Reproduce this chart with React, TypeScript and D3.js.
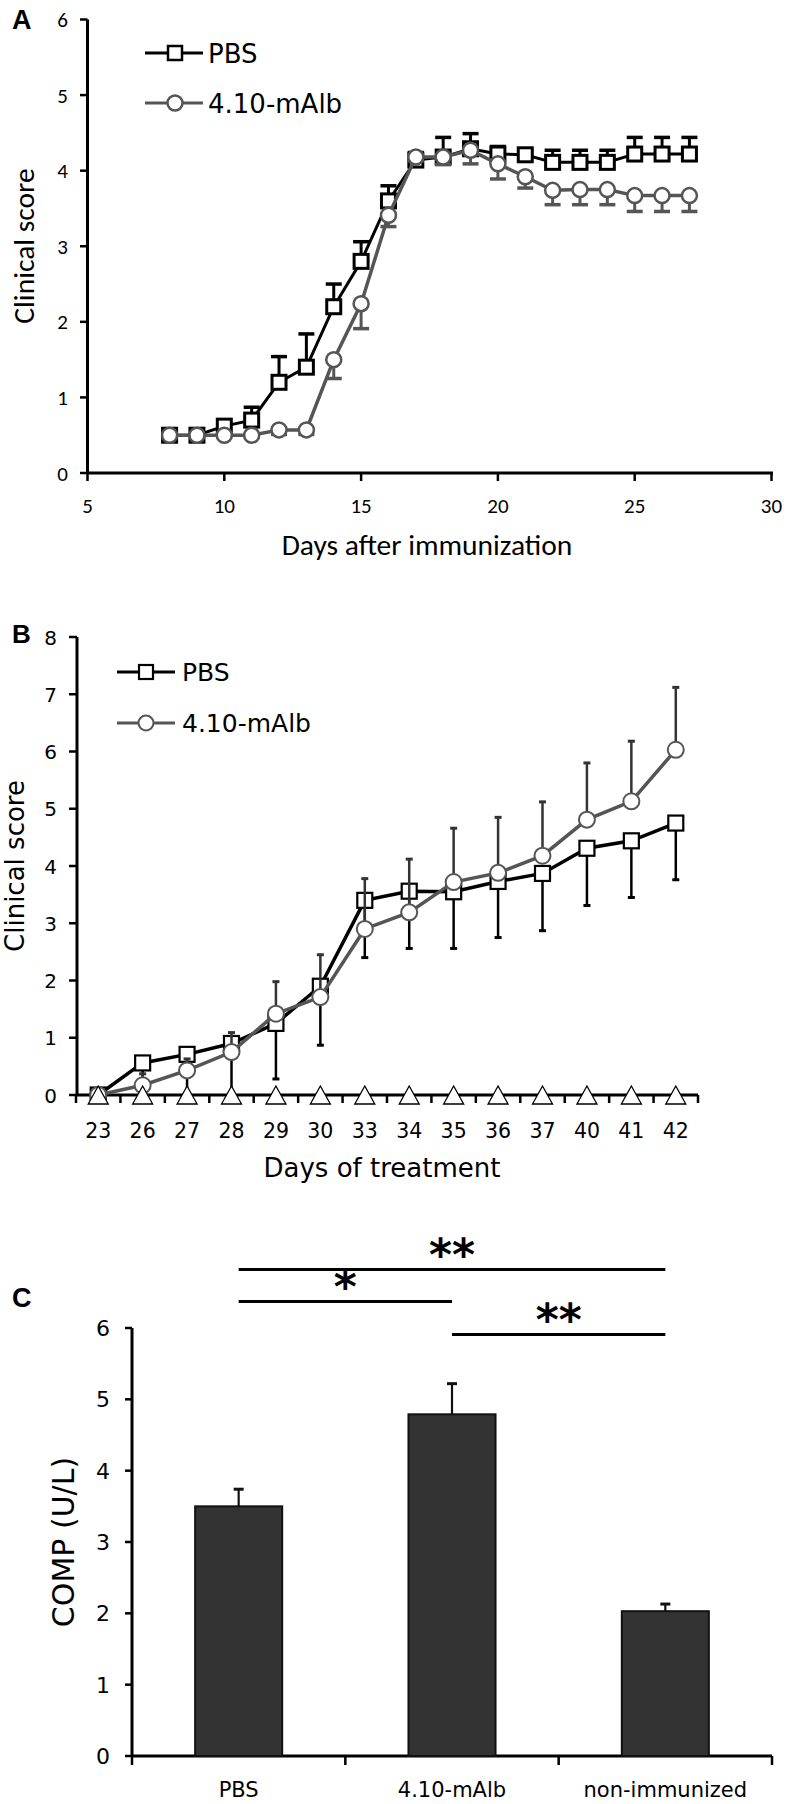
import React from "react";
import * as d3 from "d3";

// Panel A: days after immunization
const daysA = [8, 9, 10, 11, 12, 13, 14, 15, 16, 17, 18, 19, 20, 21, 22, 23, 24, 25, 26, 27];
const pbsA = [0.5, 0.5, 0.62, 0.7, 1.2, 1.4, 2.2, 2.8, 3.6, 4.14, 4.18, 4.29, 4.22, 4.21, 4.11, 4.11, 4.11, 4.22, 4.22, 4.22];
const pbsErrA = [0, 0, 0.04, 0.17, 0.34, 0.44, 0.3, 0.26, 0.2, 0.1, 0.26, 0.2, 0.1, 0.06, 0.16, 0.16, 0.16, 0.22, 0.22, 0.22];
const albA = [0.5, 0.5, 0.5, 0.5, 0.57, 0.57, 1.5, 2.24, 3.41, 4.18, 4.18, 4.27, 4.09, 3.92, 3.74, 3.75, 3.75, 3.67, 3.67, 3.67];
const albErrA = [0, 0, 0.02, 0.02, 0.06, 0.06, 0.25, 0.33, 0.15, 0.05, 0.1, 0.18, 0.2, 0.15, 0.19, 0.2, 0.2, 0.21, 0.21, 0.21];

// Panel B: days of treatment
const daysB = ["23", "26", "27", "28", "29", "30", "33", "34", "35", "36", "37", "40", "41", "42"];
const pbsB = [0, 0.56, 0.71, 0.9, 1.25, 1.9, 3.4, 3.56, 3.55, 3.73, 3.87, 4.31, 4.44, 4.75];
const pbsErrB = [0, 0.4, 0.7, 0.88, 0.97, 1.03, 1.0, 1.0, 0.99, 0.98, 1.0, 1.0, 0.99, 0.99];
const albB = [0, 0.17, 0.43, 0.75, 1.42, 1.71, 2.9, 3.19, 3.72, 3.88, 4.18, 4.81, 5.13, 6.03];
const albErrB = [0, 0.2, 0.2, 0.34, 0.56, 0.74, 0.88, 0.93, 0.94, 0.97, 0.94, 0.99, 1.05, 1.09];
const nonB = [0, 0, 0, 0, 0, 0, 0, 0, 0, 0, 0, 0, 0, 0];

// Panel C: COMP
const groupsC = ["PBS", "4.10-mAlb", "non-immunized"];
const compC = [3.5, 4.79, 2.03];
const compErrC = [0.24, 0.43, 0.1];
const bracketFrom = [0, 0, 1];
const bracketTo = [2, 1, 2];
const bracketLevel = [6.82, 6.37, 5.91];
const bracketStars = ["**", "*", "**"];

const GRAY = "#555";
const CAL = "Carlito, Lato, sans-serif";
const VER = "'DejaVu Sans', Verdana, sans-serif";
const BOLD = "'Liberation Sans', Arial, sans-serif";

function Square({ x, y, s, sw }) {
  return <rect x={x - s / 2} y={y - s / 2} width={s} height={s} fill="#fff" stroke="#000" strokeWidth={sw} />;
}

function PanelA() {
  const x = d3.scaleLinear().domain([5, 30]).range([87.5, 771.5]);
  const y = d3.scaleLinear().domain([0, 6]).range([473, 19.5]);
  const line = d3.line<number>().x((d, i) => x(daysA[i])).y(d => y(d));

  return (
    <g>
      <text x={12} y={29} fontFamily={BOLD} fontWeight="bold" fontSize={27}>A</text>
      {/* axes */}
      <line x1={87.5} x2={87.5} y1={y(6)} y2={y(0)} stroke="#000" strokeWidth={3} />
      <line x1={86} x2={x(30) + 1.5} y1={y(0)} y2={y(0)} stroke="#000" strokeWidth={3} />
      {y.ticks(6).map(t => (
        <g key={t}>
          <line x1={80} x2={87.5} y1={y(t)} y2={y(t)} stroke="#000" strokeWidth={2.5} />
          <text x={68} y={y(t) + 7.5} textAnchor="end" fontFamily={CAL} fontSize={21}>{t}</text>
        </g>
      ))}
      {x.ticks(5).map(t => (
        <g key={t}>
          <line x1={x(t)} x2={x(t)} y1={y(0)} y2={y(0) + 8} stroke="#000" strokeWidth={2.5} />
          <text x={x(t)} y={513} textAnchor="middle" fontFamily={CAL} fontSize={21}>{t}</text>
        </g>
      ))}
      <text x={427} y={555} textAnchor="middle" fontFamily={CAL} fontSize={29.5}>Days after immunization</text>
      <text transform="translate(34,246) rotate(-90)" textAnchor="middle" fontFamily={CAL} fontSize={29.5}>Clinical score</text>

      {/* PBS */}
      <path d={line(pbsA)} fill="none" stroke="#000" strokeWidth={3} />
      {pbsA.map((v, i) => pbsErrA[i] > 0 && (
        <g key={i}>
          <line x1={x(daysA[i])} x2={x(daysA[i])} y1={y(v)} y2={y(v + pbsErrA[i])} stroke="#000" strokeWidth={3} />
          <line x1={x(daysA[i]) - 8} x2={x(daysA[i]) + 8} y1={y(v + pbsErrA[i])} y2={y(v + pbsErrA[i])} stroke="#000" strokeWidth={3.5} />
        </g>
      ))}
      {pbsA.map((v, i) => <Square key={i} x={x(daysA[i])} y={y(v)} s={14} sw={3} />)}

      {/* 4.10-mAlb */}
      <path d={line(albA)} fill="none" stroke={GRAY} strokeWidth={3.5} />
      {albA.map((v, i) => albErrA[i] > 0 && (
        <g key={i}>
          <line x1={x(daysA[i])} x2={x(daysA[i])} y1={y(v)} y2={y(v - albErrA[i])} stroke={GRAY} strokeWidth={3} />
          <line x1={x(daysA[i]) - 8} x2={x(daysA[i]) + 8} y1={y(v - albErrA[i])} y2={y(v - albErrA[i])} stroke={GRAY} strokeWidth={3.5} />
        </g>
      ))}
      {albA.map((v, i) => <circle key={i} cx={x(daysA[i])} cy={y(v)} r={7.5} fill="#fff" stroke={GRAY} strokeWidth={2.5} />)}

      {/* legend */}
      <line x1={145} x2={203} y1={53} y2={53} stroke="#000" strokeWidth={3} />
      <Square x={175} y={53} s={14} sw={2.5} />
      <text x={208} y={62.5} fontFamily={VER} fontSize={26}>PBS</text>
      <line x1={145} x2={203} y1={103} y2={103} stroke={GRAY} strokeWidth={3} />
      <circle cx={175} cy={103} r={7.5} fill="#fff" stroke={GRAY} strokeWidth={2.5} />
      <text x={208} y={112.5} fontFamily={VER} fontSize={26}>4.10-mAlb</text>
    </g>
  );
}

function PanelB() {
  const x = d3.scalePoint().domain(daysB).range([76, 698]).padding(0.5);
  const y = d3.scaleLinear().domain([0, 8]).range([1095, 637]);
  const step = x.step();
  const line = d3.line<number>().x((d, i) => x(daysB[i])).y(d => y(d));
  const ERR = "#333";

  return (
    <g>
      <text x={12} y={643} fontFamily={BOLD} fontWeight="bold" fontSize={26}>B</text>
      <line x1={77} x2={77} y1={y(8)} y2={y(0)} stroke="#000" strokeWidth={3} />
      <line x1={76} x2={698} y1={y(0)} y2={y(0)} stroke="#000" strokeWidth={3} />
      {y.ticks(8).map(t => (
        <g key={t}>
          <line x1={69} x2={77} y1={y(t)} y2={y(t)} stroke="#000" strokeWidth={2.5} />
          <text x={57} y={y(t) + 7.5} textAnchor="end" fontFamily={VER} fontSize={20}>{t}</text>
        </g>
      ))}
      {d3.range(daysB.length + 1).map(i => (
        <line key={i} x1={76 + i * step} x2={76 + i * step} y1={y(0)} y2={y(0) + 8} stroke="#000" strokeWidth={2.5} />
      ))}
      {daysB.map(d => (
        <text key={d} x={x(d)} y={1138} textAnchor="middle" fontFamily={VER} fontSize={20.5}>{d}</text>
      ))}
      <text x={382} y={1177} textAnchor="middle" fontFamily={VER} fontSize={26}>Days of treatment</text>
      <text transform="translate(24,866) rotate(-90)" textAnchor="middle" fontFamily={VER} fontSize={26}>Clinical score</text>

      {/* PBS */}
      <path d={line(pbsB)} fill="none" stroke="#000" strokeWidth={3.5} />
      {pbsB.map((v, i) => pbsErrB[i] > 0 && (
        <g key={i}>
          <line x1={x(daysB[i])} x2={x(daysB[i])} y1={y(v)} y2={y(v - pbsErrB[i])} stroke="#000" strokeWidth={2.5} />
          <line x1={x(daysB[i]) - 3.5} x2={x(daysB[i]) + 3.5} y1={y(v - pbsErrB[i])} y2={y(v - pbsErrB[i])} stroke="#000" strokeWidth={3} />
        </g>
      ))}
      {pbsB.map((v, i) => <Square key={i} x={x(daysB[i])} y={y(v)} s={15} sw={2.2} />)}

      {/* 4.10-mAlb */}
      <path d={line(albB)} fill="none" stroke={GRAY} strokeWidth={3.5} />
      {albB.map((v, i) => albErrB[i] > 0 && (
        <g key={i}>
          <line x1={x(daysB[i])} x2={x(daysB[i])} y1={y(v)} y2={y(v + albErrB[i])} stroke={ERR} strokeWidth={2.5} />
          <line x1={x(daysB[i]) - 3.5} x2={x(daysB[i]) + 3.5} y1={y(v + albErrB[i])} y2={y(v + albErrB[i])} stroke={ERR} strokeWidth={3} />
        </g>
      ))}
      {albB.map((v, i) => <circle key={i} cx={x(daysB[i])} cy={y(v)} r={8} fill="#fff" stroke={GRAY} strokeWidth={2} />)}

      {/* non-immunized */}
      {nonB.map((v, i) => {
        const cx = x(daysB[i]);
        const cy = y(v);
        return <path key={i} d={`M${cx},${cy - 9}L${cx + 10},${cy + 9}L${cx - 10},${cy + 9}Z`} fill="#fff" stroke="#000" strokeWidth={1.3} />;
      })}

      {/* legend */}
      <line x1={117} x2={175} y1={672} y2={672} stroke="#000" strokeWidth={3} />
      <Square x={146} y={672} s={14} sw={2.2} />
      <text x={182} y={681} fontFamily={VER} fontSize={25}>PBS</text>
      <line x1={117} x2={175} y1={723} y2={723} stroke={GRAY} strokeWidth={3} />
      <circle cx={146} cy={723} r={7.5} fill="#fff" stroke={GRAY} strokeWidth={2} />
      <text x={182} y={732} fontFamily={VER} fontSize={25}>4.10-mAlb</text>
    </g>
  );
}

function PanelC() {
  const x = d3.scaleBand().domain(groupsC).range([132, 772]).paddingInner(0.592).paddingOuter(0.296);
  const y = d3.scaleLinear().domain([0, 6]).range([1756, 1328]);
  const bw = x.bandwidth();
  const cx = (i: number) => x(groupsC[i]) + bw / 2;
  const step = x.step();

  return (
    <g>
      <text x={12} y={1307} fontFamily={BOLD} fontWeight="bold" fontSize={27}>C</text>
      <line x1={132} x2={132} y1={y(6)} y2={y(0)} stroke="#000" strokeWidth={3} />
      <line x1={131} x2={772} y1={y(0)} y2={y(0)} stroke="#000" strokeWidth={3} />
      {y.ticks(6).map(t => (
        <g key={t}>
          <line x1={125} x2={132} y1={y(t)} y2={y(t)} stroke="#000" strokeWidth={2.5} />
          <text x={110} y={y(t) + 8} textAnchor="end" fontFamily={VER} fontSize={22}>{t}</text>
        </g>
      ))}
      {d3.range(groupsC.length + 1).map(i => (
        <line key={i} x1={132 + i * step} x2={132 + i * step} y1={y(0)} y2={y(0) + 9} stroke="#000" strokeWidth={2.5} />
      ))}
      {groupsC.map((g, i) => (
        <text key={g} x={cx(i)} y={1797} textAnchor="middle" fontFamily={VER} fontSize={21}>{g}</text>
      ))}
      <text transform="translate(74,1542) rotate(-90)" textAnchor="middle" fontFamily={VER} fontSize={30}>COMP (U/L)</text>

      {compC.map((v, i) => (
        <g key={i}>
          <line x1={cx(i)} x2={cx(i)} y1={y(v)} y2={y(v + compErrC[i])} stroke="#111" strokeWidth={2.2} />
          <line x1={cx(i) - 5} x2={cx(i) + 5} y1={y(v + compErrC[i])} y2={y(v + compErrC[i])} stroke="#111" strokeWidth={3} />
          <rect x={x(groupsC[i])} y={y(v)} width={bw} height={y(0) - y(v)} fill="#333" stroke="#111" strokeWidth={2} />
        </g>
      ))}

      {bracketLevel.map((lv, i) => (
        <g key={i}>
          <line x1={cx(bracketFrom[i])} x2={cx(bracketTo[i])} y1={y(lv)} y2={y(lv)} stroke="#000" strokeWidth={3} />
          <text x={(cx(bracketFrom[i]) + cx(bracketTo[i])) / 2} y={y(lv) + 0.64}
            textAnchor="middle" fontFamily={VER} fontWeight="bold" fontSize={44}>{bracketStars[i]}</text>
        </g>
      ))}
    </g>
  );
}

export default function App() {
  return (
    <div style={{ position: "absolute", left: 0, top: 0 }}>
      <svg width={786} height={1804} style={{ display: "block", background: "#fff" }}>
        <PanelA />
        <PanelB />
        <PanelC />
      </svg>
    </div>
  );
}
